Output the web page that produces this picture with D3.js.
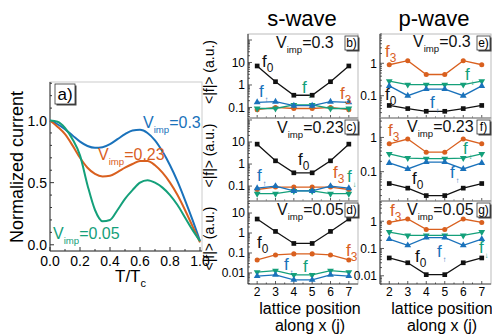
<!DOCTYPE html>
<html><head><meta charset="utf-8">
<script src="https://cdn.jsdelivr.net/npm/d3@7"></script>
<style>body{margin:0;background:#fff} svg{display:block} text{font-family:"Liberation Sans",Arial,sans-serif}</style>
</head><body><svg id="c" width="492" height="335"></svg>
<script>
// ---------- panel a data ----------
const T = [0,0.05,0.1,0.15,0.2,0.25,0.3,0.35,0.4,0.45,0.5,0.55,0.6,0.65,0.7,0.75,0.8,0.85,0.9,0.95,1.0];
const cur03  = [1.0,0.97,0.93,0.88,0.83,0.795,0.78,0.785,0.81,0.85,0.89,0.92,0.925,0.9,0.84,0.75,0.64,0.51,0.36,0.2,0.03];
const cur023 = [1.0,0.95,0.89,0.8,0.7,0.62,0.57,0.55,0.555,0.585,0.62,0.65,0.675,0.675,0.64,0.58,0.5,0.4,0.28,0.15,0.02];
const cur005 = [1.0,0.99,0.94,0.85,0.72,0.48,0.28,0.19,0.2,0.28,0.37,0.44,0.5,0.52,0.5,0.46,0.4,0.32,0.22,0.12,0.03];
const aXTicks = [0,0.2,0.4,0.6,0.8,1.0];
const aYTicks = [0,0.5,1.0];
const aLabels = ["0.3","0.23","0.05"];

// ---------- s-wave / p-wave data ----------
const J = [2,3,4,5,6,7];
const Vimp = ["0.3","0.23","0.05"];
const sF0 = [[7,1.4,0.35,0.35,1.4,7],[8,1.4,0.4,0.4,1.4,8],[5,1.2,0.3,0.3,1.2,5]];
const sF3 = [[0.08,0.1,0.09,0.09,0.1,0.08],[0.07,0.09,0.09,0.09,0.09,0.07],[0.045,0.08,0.09,0.09,0.08,0.045]];
const sFu = [[0.17,0.18,0.12,0.12,0.18,0.17],[0.08,0.1,0.06,0.06,0.1,0.08],[0.007,0.008,0.0045,0.0045,0.008,0.007]];
const sFd = [[0.09,0.09,0.13,0.13,0.09,0.09],[0.045,0.045,0.06,0.06,0.045,0.045],[0.011,0.013,0.008,0.008,0.013,0.011]];
const pF0 = [[0.05,0.04,0.033,0.033,0.04,0.05],[0.045,0.033,0.02,0.02,0.033,0.045],[0.045,0.03,0.011,0.011,0.03,0.045]];
const pF3 = [[0.9,1.2,0.45,0.45,1.2,0.9],[0.65,0.9,0.37,0.37,0.9,0.65],[0.9,1.2,0.5,0.5,1.2,0.9]];
const pFu = [[0.2,0.1,0.16,0.16,0.1,0.2],[0.18,0.12,0.19,0.19,0.12,0.18],[0.22,0.13,0.25,0.25,0.13,0.22]];
const pFd = [[0.28,0.22,0.22,0.22,0.22,0.28],[0.33,0.25,0.24,0.24,0.25,0.33],[0.4,0.3,0.3,0.3,0.3,0.4]];
const sYDomains = [[0.034,185],[0.021,123],[0.0028,40]];
const pYDomains = [[0.0205,8],[0.0139,3.7],[0.005,5.5]];
const sTickVals = [[10,1,0.1],[10,1,0.1],[10,1,0.1,0.01]];
const pTickVals = [[1,0.1],[1,0.1],[1,0.1,0.01]];
const sLetters = ["b)","c)","d)"];
const pLetters = ["e)","f)","g)"];

const BLUE="#1a72bb", ORANGE="#d9601f", GREEN="#14a07a", BLACK="#111";
const svg = d3.select("#c");

function box(x,y,w,h,txt,fs){
  svg.append("rect").attr("x",x+1.5).attr("y",y+1.5).attr("width",w).attr("height",h).attr("fill","#444");
  svg.append("rect").attr("x",x).attr("y",y).attr("width",w).attr("height",h).attr("fill","#fff").attr("stroke","#333").attr("stroke-width",0.8);
  svg.append("text").attr("x",x+w/2).attr("y",y+h/2).attr("dy","0.36em").attr("text-anchor","middle").attr("font-size",fs).text(txt);
}
function vtext(x,y,val,fs,col){
  const t = svg.append("text").attr("x",x).attr("y",y).attr("font-size",fs).attr("fill",col);
  t.append("tspan").text("V");
  t.append("tspan").attr("font-size",fs*0.6).attr("dy",fs*0.3).text("imp");
  t.append("tspan").attr("dy",-fs*0.3).text("="+val);
}
function flabel(x,y,sub,col,fs){
  fs = fs||17;
  const t = svg.append("text").attr("x",x).attr("y",y).attr("font-size",fs).attr("fill",col);
  t.append("tspan").text("f");
  const isArrow = (sub==="\u2191"||sub==="\u2193");
  t.append("tspan").attr("font-size",isArrow?fs*0.45:fs*0.7).attr("dy",fs*0.3).attr("dx",isArrow?1:0).text(sub);
}

// ---------- panel a ----------
const ax = d3.scaleLinear().domain([0,1]).range([50,200]);
const ay = d3.scaleLinear().domain([-0.05,1.31]).range([251,82]);
svg.append("rect").attr("x",50).attr("y",82).attr("width",152).attr("height",169).attr("fill","none").attr("stroke","#ccc").attr("stroke-width",1);
svg.append("line").attr("x1",50).attr("x2",50).attr("y1",82).attr("y2",251).attr("stroke","#333");
svg.append("line").attr("x1",50).attr("x2",202).attr("y1",251).attr("y2",251).attr("stroke","#333");
d3.range(0,1.01,0.1).forEach(v=>{
  const major = Math.round(v*10)%2===0;
  svg.append("line").attr("x1",ax(v)).attr("x2",ax(v)).attr("y1",251).attr("y2",major?247:249).attr("stroke","#333");
});
d3.range(0,1.31,0.1).forEach(v=>{
  svg.append("line").attr("x1",50).attr("x2",(Math.round(v*10)%5===0)?54:52).attr("y1",ay(v)).attr("y2",ay(v)).attr("stroke","#333");
});
aXTicks.forEach(v=>svg.append("text").attr("x",ax(v)).attr("y",266).attr("text-anchor","middle").attr("font-size",14).text(v.toFixed(1)));
aYTicks.forEach(v=>svg.append("text").attr("x",47).attr("y",ay(v)).attr("dy","0.36em").attr("text-anchor","end").attr("font-size",14).text(v.toFixed(1)));
{
  const t = svg.append("text").attr("x",115).attr("y",282).attr("font-size",17);
  t.append("tspan").text("T/T");
  t.append("tspan").attr("font-size",11).attr("dy",5).text("c");
}
svg.append("text").attr("transform","translate(23,167) rotate(-90)").attr("text-anchor","middle").attr("font-size",18).text("Normalized current");
const aline = d3.line().x((d,i)=>ax(T[i])).y(d=>ay(d)).curve(d3.curveMonotoneX);
[[cur03,BLUE],[cur023,ORANGE],[cur005,GREEN]].forEach(([arr,c])=>{
  svg.append("path").attr("d",aline(arr)).attr("fill","none").attr("stroke",c).attr("stroke-width",2);
});
box(55,84,20,20,"a)",17);
vtext(143,128,aLabels[0],16,BLUE);
vtext(98,160,aLabels[1],16,ORANGE);
vtext(53,239,aLabels[2],16,GREEN);

// ---------- small panels ----------
const tops = [34,118,201], bots = [118,201,284];
const sX = d3.scaleLinear().domain([1.5,7.5]).range([248,358]);
const pX = d3.scaleLinear().domain([1.5,7.5]).range([380,491]);

const sAnn = [
  {v:[28,14], f0:[14,33], fu:[11,63], fd:[54,59], f3:[92,65]},
  {v:[29,15], f0:[50,47], fu:[9,63],  fd:[99,64], f3:[85,60]},
  {v:[29,14], f0:[9,47],  fu:[36,69], fd:[55,71], f3:[98,55]}
];
const pAnn = [
  {v:[33,13], f0:[5,66],  fu:[50,74], fd:[85,46], f3:[5,23]},
  {v:[27,14], f0:[32,66], fu:[70,60], fd:[83,36], f3:[8,18]},
  {v:[27,14], f0:[35,61], fu:[57,56], fd:[99,52], f3:[10,15]}
];

function symbolFor(k){
  return {f0:d3.symbolSquare,f3:d3.symbolCircle,fu:d3.symbolTriangle,fd:d3.symbolTriangle}[k];
}
function panel(X, k, dom, tickVals, letter, series, ann, isS){
  const top=tops[k], bot=bots[k], L=X.range()[0], R=X.range()[1];
  const y = d3.scaleLog().domain(dom).range([bot,top]);
  svg.append("rect").attr("x",L).attr("y",top).attr("width",R-L).attr("height",bot-top).attr("fill","none").attr("stroke","#bbb").attr("stroke-width",1);
  svg.append("line").attr("x1",L).attr("x2",L).attr("y1",top).attr("y2",bot).attr("stroke","#333");
  svg.append("line").attr("x1",L).attr("x2",R).attr("y1",bot).attr("y2",bot).attr("stroke","#555");
  const lo=Math.floor(Math.log10(dom[0])), hi=Math.ceil(Math.log10(dom[1]));
  for(let e=lo;e<=hi;e++){
    for(let m=1;m<10;m++){
      const v=m*Math.pow(10,e);
      if(v<dom[0]||v>dom[1]) continue;
      svg.append("line").attr("x1",L).attr("x2",L+(m===1?4:2)).attr("y1",y(v)).attr("y2",y(v)).attr("stroke","#333").attr("stroke-width",0.8);
    }
  }
  tickVals.forEach(v=>svg.append("text").attr("x",L-3).attr("y",y(v)).attr("dy","0.36em").attr("text-anchor","end").attr("font-size",12).text(String(v)));
  J.forEach(j=>svg.append("line").attr("x1",X(j)).attr("x2",X(j)).attr("y1",bot).attr("y2",bot-3).attr("stroke","#333").attr("stroke-width",0.8));
  d3.range(2.5,7.5,1).forEach(j=>svg.append("line").attr("x1",X(j)).attr("x2",X(j)).attr("y1",bot).attr("y2",bot-1.5).attr("stroke","#333").attr("stroke-width",0.8));
  if(k===2) J.forEach(j=>svg.append("text").attr("x",X(j)).attr("y",bot+12).attr("text-anchor","middle").attr("font-size",12).text(j));
  const cols={f0:BLACK,f3:ORANGE,fu:BLUE,fd:GREEN};
  const ln = d3.line().x((d,i)=>X(J[i])).y(d=>y(d));
  ["f3","fd","fu","f0"].forEach(key=>{
    const arr=series[key];
    svg.append("path").attr("d",ln(arr)).attr("fill","none").attr("stroke",cols[key]).attr("stroke-width",1.3);
    arr.forEach((v,i)=>{
      svg.append("path").attr("d",d3.symbol().type(symbolFor(key)).size(key==="f0"?22:20)())
        .attr("transform",`translate(${X(J[i])},${y(v)})${key==="fd"?" rotate(180)":""}`)
        .attr("fill",cols[key]);
    });
  });
  box(L+97,top+2,13,14,letter,12);
  vtext(L+ann.v[0],top+ann.v[1],Vimp[k],16,"#111");
  flabel(L+ann.f0[0],top+ann.f0[1],"0",BLACK);
  flabel(L+ann.f3[0],top+ann.f3[1],"3",ORANGE);
  flabel(L+ann.fu[0],top+ann.fu[1],"\u2191",BLUE);
  flabel(L+ann.fd[0],top+ann.fd[1],"\u2193",GREEN);
  if(isS){
    svg.append("text").attr("transform",`translate(214,${(top+bot)/2-4}) rotate(-90)`).attr("text-anchor","middle").attr("font-size",14).text("<|f|> (a.u.)");
  }
}
for(let k=0;k<3;k++){
  panel(sX,k,sYDomains[k],sTickVals[k],sLetters[k],{f0:sF0[k],f3:sF3[k],fu:sFu[k],fd:sFd[k]},sAnn[k],true);
  panel(pX,k,pYDomains[k],pTickVals[k],pLetters[k],{f0:pF0[k],f3:pF3[k],fu:pFu[k],fd:pFd[k]},pAnn[k],false);
}
svg.append("text").attr("x",302).attr("y",26).attr("text-anchor","middle").attr("font-size",22).text("s-wave");
svg.append("text").attr("x",434).attr("y",26).attr("text-anchor","middle").attr("font-size",22).text("p-wave");
[310,442].forEach(cx=>{
  svg.append("text").attr("x",cx).attr("y",314).attr("text-anchor","middle").attr("font-size",16).text("lattice position");
  svg.append("text").attr("x",cx).attr("y",331).attr("text-anchor","middle").attr("font-size",16).text("along x (j)");
});
</script></body></html>
